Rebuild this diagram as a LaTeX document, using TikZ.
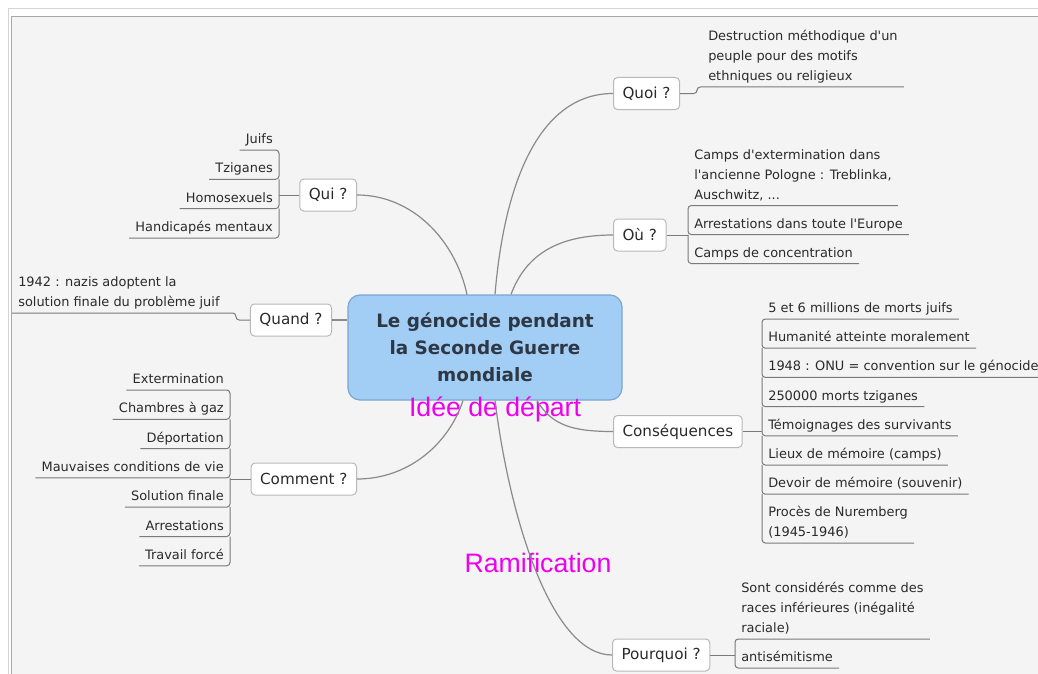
\documentclass[tikz,border=0pt]{standalone}
\usepackage{fontspec}
\setmainfont{DejaVu Sans}[Ligatures=TeXOff]
\newfontfamily\arialf{Liberation Sans}
\usetikzlibrary{calc}
\definecolor{bg}{HTML}{F4F4F4}
\definecolor{frameA}{HTML}{D4D4D4}
\definecolor{frameB}{HTML}{A8A8A8}
\definecolor{linkc}{HTML}{8A8A8A}
\definecolor{ulc}{HTML}{7A7A7A}
\definecolor{txt}{HTML}{2A2A2A}
\definecolor{cfill}{HTML}{A2CDF4}
\definecolor{cdraw}{HTML}{7AA6D2}
\definecolor{ctext}{HTML}{2E3744}
\definecolor{mag}{HTML}{EE00EE}
\begin{document}
\begin{tikzpicture}[x=0.75pt,y=-0.75pt,
 center/.style={draw=cdraw, line width=0.9pt, fill=cfill, rounded corners=9pt, minimum width=205.5pt, minimum height=78.75pt, align=center, font=\fontsize{13.8}{20.25}\selectfont\bfseries, text=ctext, inner sep=0pt},
 branch/.style={draw=gray!55, line width=0.75pt, fill=white, rounded corners=3pt, minimum height=24pt, inner xsep=6.75pt, inner ysep=0pt, font=\fontsize{11.4}{14}\selectfont, text=txt},
 leaf/.style={inner xsep=4.5pt, inner ysep=2.25pt, text depth=2.4pt, font=\fontsize{9.7}{15}\selectfont, text=txt, align=left},
 leafL/.style={leaf, anchor=south east},
 leafR/.style={leaf, anchor=south west},
 link/.style={draw=linkc, line width=0.9pt},
 ul/.style={draw=ulc, line width=0.75pt, rounded corners=2.5pt},
 magt/.style={text=mag, font=\arialf\fontsize{20}{24}\selectfont, inner sep=0pt}
]
\useasboundingbox (0,0) rectangle (1038,674);
% frame and background
\fill[white] (0,0) rectangle (1038,674);
\draw[frameA, line width=0.75pt] (8,674) -- (8,9) -- (1038,9);
\fill[bg] (11,17) rectangle (1038,674);
\draw[frameB, line width=0.75pt] (11,674) -- (11,17) -- (1038,17);

% central idea
\node[center] (c) at (485,347.5) {Le génocide pendant\\la Seconde Guerre\\mondiale};

% branches
\node[branch, anchor=east] (qui) at (357,195) {Qui ?};
\node[branch, anchor=east] (quand) at (332,320) {Quand ?};
\node[branch, anchor=east] (comment) at (357,479) {Comment ?};
\node[branch, anchor=west] (quoi) at (613,93.5) {Quoi ?};
\node[branch, anchor=west] (ou) at (613,235) {Où ?};
\node[branch, anchor=west] (cons) at (613,431.5) {Conséquences};
\node[branch, anchor=west] (pq) at (612,655) {Pourquoi ?};

% leaves: Qui
\node[leafL] (k1) at (279,150) {Juifs};
\node[leafL] (k2) at (279,179.3) {Tziganes};
\node[leafL] (k3) at (279,208.6) {Homosexuels};
\node[leafL] (k4) at (279,238) {Handicapés mentaux};

% leaves: Quand
\node[leafR] (qd) at (12,313) {1942 : nazis adoptent la\\solution finale du problème juif};

% leaves: Comment
\node[leafL] (m1) at (230,390) {Extermination};
\node[leafL] (m2) at (230,419.3) {Chambres à gaz};
\node[leafL] (m3) at (230,448.6) {Déportation};
\node[leafL] (m4) at (230,477.9) {Mauvaises conditions de vie};
\node[leafL] (m5) at (230,507.2) {Solution finale};
\node[leafL] (m6) at (230,536.5) {Arrestations};
\node[leafL] (m7) at (230,565.8) {Travail forcé};

% leaves: Quoi
\node[leafR] (q1) at (702,87) {Destruction méthodique d'un\\peuple pour des motifs\\ethniques ou religieux};

% leaves: Où
\node[leafR] (o1) at (688,205.5) {Camps d'extermination dans\\l'ancienne Pologne : Treblinka,\\Auschwitz, ...};
\node[leafR] (o2) at (688,234.5) {Arrestations dans toute l'Europe};
\node[leafR] (o3) at (688,263.5) {Camps de concentration};

% leaves: Conséquences
\node[leafR] (s1) at (762,319) {5 et 6 millions de morts juifs};
\node[leafR] (s2) at (762,348.2) {Humanité atteinte moralement};
\node[leafR] (s3) at (762,377.4) {1948 : ONU = convention sur le génocide};
\node[leafR] (s4) at (762,406.6) {250000 morts tziganes};
\node[leafR] (s5) at (762,435.8) {Témoignages des survivants};
\node[leafR] (s6) at (762,465) {Lieux de mémoire (camps)};
\node[leafR] (s7) at (762,494.2) {Devoir de mémoire (souvenir)};
\node[leafR] (s8) at (762,543) {Procès de Nuremberg\\(1945-1946)};

% leaves: Pourquoi
\node[leafR] (p1) at (735,639) {Sont considérés comme des\\races inférieures (inégalité\\raciale)};
\node[leafR] (p2) at (735,668) {antisémitisme};

% annotations
\node[magt] (lab1) at (495,409) {Idée de départ};
\node[magt] (lab2) at (538,563) {Ramification};

% connectors from the central idea
\draw[link] ($(c.north)+(-18,0)$) .. controls +(-12,-55) and +(55,0) .. (qui.east);
\draw[link] (quand.east) -- (quand.east -| c.west);
\draw[link] ($(c.south)+(-22,0)$) .. controls +(-15,45) and +(50,0) .. (comment.east);
\draw[link] ($(c.north)+(10,0)$) .. controls +(10,-120) and +(-70,0) .. (quoi.west);
\draw[link] ($(c.north)+(26,0)$) .. controls +(15,-40) and +(-55,0) .. (ou.west);
\draw[link] ($(c.south)+(52,0)$) .. controls +(15,25) and +(-40,0) .. (cons.west);
\draw[link] ($(c.south)+(10,0)$) .. controls +(15,120) and +(-60,0) .. (pq.west);

% Qui brackets
\draw[ul] (qui.west) -- (qui.west -| k1.south east);
\draw[ul] (k1.south west) -- (k1.south east) -- (k2.south east) -- (k2.south west);
\foreach \a/\b in {k2/k3,k3/k4}
  \draw[ul] (\a.south east) -- (\b.south east) -- (\b.south west);

% Quand
\draw[ul] (quand.west) -- ($(quand.west)+(-14,0)$) |- (qd.south west);

% Comment brackets
\draw[ul] (comment.west) -- (comment.west -| m1.south east);
\draw[ul] (m1.south west) -- (m1.south east) -- (m2.south east) -- (m2.south west);
\foreach \a/\b in {m2/m3,m3/m4,m4/m5,m5/m6,m6/m7}
  \draw[ul] (\a.south east) -- (\b.south east) -- (\b.south west);

% Quoi
\draw[ul] (quoi.east) -- ($(quoi.east)+(17,0)$) |- (q1.south east);

% Où brackets
\draw[ul] (ou.east) -- (ou.east -| o1.south west);
\draw[ul] (o1.south east) -- (o1.south west) -- (o2.south west) -- (o2.south east);
\draw[ul] (o2.south west) -- (o3.south west) -- (o3.south east);

% Conséquences brackets
\draw[ul] (cons.east) -- (cons.east -| s1.south west);
\draw[ul] (s1.south east) -- (s1.south west) -- (s2.south west) -- (s2.south east);
\foreach \a/\b in {s2/s3,s3/s4,s4/s5,s5/s6,s6/s7,s7/s8}
  \draw[ul] (\a.south west) -- (\b.south west) -- (\b.south east);

% Pourquoi brackets
\draw[ul] (pq.east) -- (pq.east -| p1.south west);
\draw[ul] (p1.south east) -- (p1.south west) -- (p2.south west) -- (p2.south east);
\end{tikzpicture}
\end{document}
